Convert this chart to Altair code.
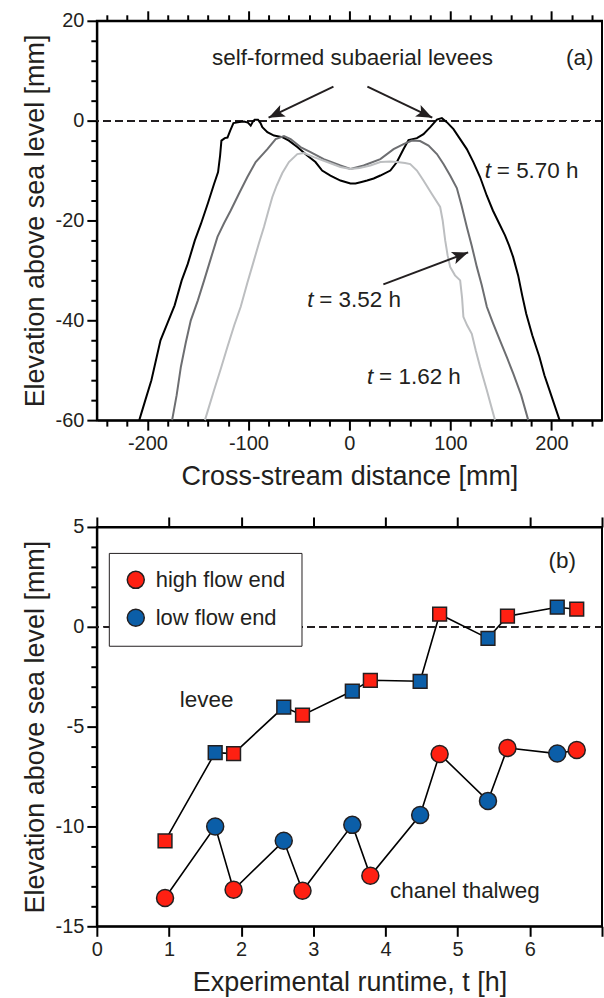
import math
import altair as alt
import pandas as pd

FONT = "Liberation Sans"
INK = "#231f20"

# ---------------- Panel (a): cross-stream elevation profiles ----------------
x_570 = [-208, -202, -196, -187, -180, -173, -166, -160, -153, -147, -140, -134, -130, -128, -126.7,
         -123.4, -120.7, -118, -114.8, -109, -104.3, -100.5, -97.7, -95.5, -93.8, -90.5, -88, -86.2,
         -81.2, -74.7, -66.4, -59.9, -51.6, -41.8, -33.6, -27, -18.8, -8.9, 1, 6, 12, 17.5, 24, 30.6,
         40.5, 47, 53.6, 58.5, 66.8, 73.3, 80, 86.6, 91.5, 96.4, 103, 109.6, 116.2, 122.7, 129.3, 135.9,
         142, 148, 154, 158, 162, 167, 171, 175, 181, 188, 193, 198, 203, 208]
y_570 = [-60, -56, -52, -44, -40.5, -37, -32, -28.7, -24, -20.7, -16.5, -12.7, -10.3, -7, -4,
         -3.5, -3.4, -2, -0.5, -0.3, -0.2, -0.4, -1, -0.2, 0.2, 0.2, -0.5, -1.3,
         -2.3, -3, -3.3, -4, -5.3, -7, -8.3, -10, -11, -12, -12.6, -12.6, -12.3, -12, -11.6, -11,
         -10, -8.3, -5.7, -3.9, -3.5, -2.7, -1.3, 0.2, 0.5, -0.3, -1.7, -3.7, -5.7, -8.3, -11.3, -15,
         -18, -20.5, -23, -25, -27.3, -31, -35, -38.7, -43, -47.3, -51, -54, -57, -60]

x_352 = [-175.5, -171, -166.8, -162, -157, -150, -143.8, -137, -130.6, -124, -117.5, -109, -101, -92.8,
         -81.2, -73, -64.8, -58.2, -48.4, -38.5, -25.4, -8.9, 1, 14.1, 30.6, 43.7, 53.6, 61.9, 70, 78.3,
         86.6, 93.1, 99.7, 106.3, 111, 116.2, 121, 126.1, 131, 136, 142, 149, 156, 162.2, 170, 177]
y_352 = [-60, -55, -49.3, -44.5, -40, -36, -32, -27.5, -23.3, -20.5, -18, -14.5, -11.3, -8.3,
         -5.7, -3.7, -3.1, -3.7, -5.3, -6.3, -7.7, -9, -9.7, -9, -7.7, -5.7, -4.7, -4, -4.1, -5,
         -6.7, -8.7, -11, -13.5, -17, -21.3, -25, -29.3, -33, -37.3, -40.5, -44, -47.5, -50.7, -55, -60]

x_162 = [-143, -138.5, -134, -127, -120.7, -114, -107.6, -101, -94.5, -89.5, -84.6, -80.5, -76.3, -72,
         -66.4, -59.9, -51.6, -45, -35.2, -22, -8.9, 1, 10, 20.7, 30.6, 40.5, 47, 55, 60.2, 66.8, 73.3,
         81.6, 89.8, 92.3, 94.8, 97.2, 99.7, 104.5, 109.6, 111.5, 112.8, 116.5, 121.1, 125, 129.3, 136, 144.1]
y_162 = [-60, -57, -54, -49.5, -45.3, -41, -37.3, -32.5, -28, -24.5, -21.3, -18.3, -15.3, -13,
         -10.5, -8.3, -6.7, -6.5, -7.3, -8.3, -9.3, -9.7, -9.5, -9, -8.3, -8.2, -8.3, -8.5, -8.7, -10, -12,
         -14.7, -17.3, -20, -24, -27, -29.3, -31, -32, -35.5, -39.3, -41, -42.7, -46, -49.3, -54, -60]

profile_names = ["t = 5.70 h", "t = 3.52 h", "t = 1.62 h"]
profile_colors = ["#000000", "#6d6e71", "#bcbec0"]

# text annotations of panel (a)
a_text = ["self-formed subaerial levees", "(a)"]
a_text_x = [3, 228]
a_text_y = [12.6, 12.6]
t_label = ["= 5.70 h", "= 3.52 h", "= 1.62 h"]
t_label_x = [134, -41.7, 17.5]
t_label_y = [-10, -36, -51.3]

# arrows of panel (a): tail -> tip
arrow_x0 = [-15.8, 17.8, 33.6]
arrow_y0 = [6.8, 6.8, -32.8]
arrow_x1 = [-80, 82, 117.5]
arrow_y1 = [0.6, 0.6, -26.4]

# ---------------- Panel (b): levee and thalweg elevations ----------------
runtime = [0.945, 1.64, 1.895, 2.59, 2.85, 3.54, 3.79, 4.48, 4.75, 5.42, 5.69, 6.38, 6.65]
flow_end = ["high flow end", "low flow end"] * 6 + ["high flow end"]
levee = [-10.72, -6.3, -6.35, -4.02, -4.43, -3.22, -2.68, -2.73, 0.63, -0.58, 0.53, 0.98, 0.88]
thalweg = [-13.58, -10.0, -13.17, -10.72, -13.22, -9.92, -12.47, -9.43, -6.37, -8.72, -6.07, -6.35, -6.17]
end_names = ["high flow end", "low flow end"]
end_colors = ["#fe2012", "#0b5ea8"]

b_text = ["(b)", "levee", "chanel thalweg"]
b_text_x = [6.45, 1.52, 5.10]
b_text_y = [3.3, -3.67, -13.25]

# ---------------- build ----------------
W, H = 506, 400
XA = [-250, 250]
YA = [-60, 20]
XB = [0, 7]
YB = [-15, 5]
ANN = 22.5

rows = []
for name, xs, ys in zip(profile_names, [x_570, x_352, x_162], [y_570, y_352, y_162]):
    for i, (xv, yv) in enumerate(zip(xs, ys)):
        rows.append({"run": name, "i": i, "x": xv, "y": yv})
prof = pd.DataFrame(rows)

def head_angle(x0, y0, x1, y1):
    dx = (x1 - x0) * W / (XA[1] - XA[0])
    dy = -(y1 - y0) * H / (YA[1] - YA[0])
    return math.degrees(math.atan2(dx, -dy)) % 360

arrows = pd.DataFrame({"x0": arrow_x0, "y0": arrow_y0, "x1": arrow_x1, "y1": arrow_y1})
arrows["ang"] = [head_angle(a, b, c, d) for a, b, c, d in zip(arrow_x0, arrow_y0, arrow_x1, arrow_y1)]

a_txt = pd.DataFrame({"text": a_text, "x": a_text_x, "y": a_text_y})
t_txt = pd.DataFrame({"label": t_label, "x": t_label_x, "y": t_label_y})

dfb = pd.DataFrame({"t": runtime, "end": flow_end, "levee": levee, "thalweg": thalweg})
b_txt = pd.DataFrame({"text": b_text, "x": b_text_x, "y": b_text_y})

common = dict(labelFont=FONT, labelFontSize=20, labelColor=INK, labelPadding=3, labelOverlap=False,
              labelFlush=False, titleFont=FONT, titleFontSize=27, titleFontWeight="normal", titleColor=INK,
              domainColor="black", domainWidth=2, tickColor="black", tickWidth=2, grid=False)

def msize(test):
    return {"condition": {"test": test, "value": 10}, "value": 6}

xa = alt.Scale(domain=XA, nice=False, zero=False)
ya = alt.Scale(domain=YA, nice=False, zero=False)
xb = alt.Scale(domain=XB, nice=False, zero=False)
yb = alt.Scale(domain=YB, nice=False, zero=False)

xa_vals = list(range(-240, 241, 20))
ya_vals = list(range(-60, 21, 4))

ax_a_bottom = alt.Axis(values=xa_vals, tickSize=msize("datum.value % 100 === 0"),
                       labelExpr="datum.value % 100 === 0 ? toString(datum.value) : ''",
                       title="Cross-stream distance [mm]", titlePadding=10, **common)
ax_a_top = alt.Axis(orient="top", values=xa_vals, tickSize=msize("datum.value % 100 === 0"),
                    labels=False, title=None, **common)
ax_a_left = alt.Axis(values=ya_vals, tickSize=msize("datum.value % 20 === 0"),
                     labelExpr="datum.value % 20 === 0 ? toString(datum.value) : ''",
                     title="Elevation above sea level [mm]", titlePadding=6, **common)

curves = alt.Chart(prof).mark_line(strokeWidth=2).encode(
    x=alt.X("x:Q", scale=xa, axis=ax_a_bottom),
    y=alt.Y("y:Q", scale=ya, axis=ax_a_left),
    color=alt.Color("run:N", scale=alt.Scale(domain=profile_names, range=profile_colors), legend=None),
    order="i:Q",
)
zero_a = alt.Chart(prof).mark_rule(strokeDash=[7, 5], strokeWidth=1.5, color=INK).encode(
    y=alt.YDatum(0, type="quantitative", axis=None)
)
shafts = alt.Chart(arrows).mark_rule(strokeWidth=2, color=INK).encode(
    x=alt.X("x0:Q", scale=xa, axis=ax_a_top), x2="x1:Q",
    y=alt.Y("y0:Q", scale=ya, axis=None), y2="y1:Q",
)
heads = alt.Chart(arrows).mark_point(
    shape="M0,0 L-0.8,2 L0,1.55 L0.8,2 Z", size=256, filled=True, color=INK, opacity=1
).encode(
    x=alt.X("x1:Q", scale=xa, axis=None),
    y=alt.Y("y1:Q", scale=ya, axis=None),
    angle=alt.Angle("ang:Q", scale=None),
)
a_labels = alt.Chart(a_txt).mark_text(font=FONT, fontSize=ANN, color=INK, align="center", baseline="middle").encode(
    x=alt.X("x:Q", scale=xa, axis=None), y=alt.Y("y:Q", scale=ya, axis=None), text="text:N"
)
t_ital = alt.Chart(t_txt).mark_text(font=FONT, fontSize=ANN, color=INK, align="left", baseline="middle",
                                    fontStyle="italic", text="t").encode(
    x=alt.X("x:Q", scale=xa, axis=None), y=alt.Y("y:Q", scale=ya, axis=None)
)
t_rest = alt.Chart(t_txt).mark_text(font=FONT, fontSize=ANN, color=INK, align="left", baseline="middle",
                                    dx=12).encode(
    x=alt.X("x:Q", scale=xa, axis=None), y=alt.Y("y:Q", scale=ya, axis=None), text="label:N"
)

top = alt.layer(zero_a, curves, shafts, heads, a_labels, t_ital, t_rest).resolve_axis(
    x="independent", y="independent").properties(width=W, height=H)

# panel (b)
xb_vals = list(range(0, 8))
yb_vals = list(range(-15, 6))
ax_b_bottom = alt.Axis(values=xb_vals, tickSize=10,
                       labelExpr="datum.value < 7 ? toString(datum.value) : ''",
                       title="Experimental runtime, t [h]", titlePadding=10, **common)
ax_b_top = alt.Axis(orient="top", values=xb_vals, tickSize=10, labels=False, title=None, **common)
ax_b_left = alt.Axis(values=yb_vals, tickSize=msize("datum.value % 5 === 0"),
                     labelExpr="datum.value % 5 === 0 ? toString(datum.value) : ''",
                     title="Elevation above sea level [mm]", titlePadding=6, **common)

end_color = alt.Color(
    "end:N", scale=alt.Scale(domain=end_names, range=end_colors),
    legend=alt.Legend(orient="none", legendX=12, legendY=26, title=None, symbolType="circle",
                      symbolSize=290, symbolStrokeColor=INK, symbolStrokeWidth=1.5, labelFont=FONT,
                      labelFontSize=22, labelColor=INK, labelOffset=9, padding=16, rowPadding=14,
                      strokeColor=INK, fillColor="white", zindex=1, cornerRadius=0),
)

zero_b = alt.Chart(dfb).mark_rule(strokeDash=[7, 5], strokeWidth=1.5, color=INK).encode(
    y=alt.YDatum(0, type="quantitative", axis=None)
)
levee_line = alt.Chart(dfb).mark_line(color="black", strokeWidth=1.6).encode(
    x=alt.X("t:Q", scale=xb, axis=ax_b_bottom),
    y=alt.Y("levee:Q", scale=yb, axis=ax_b_left),
)
thal_line = alt.Chart(dfb).mark_line(color="black", strokeWidth=1.6).encode(
    x=alt.X("t:Q", scale=xb, axis=None),
    y=alt.Y("thalweg:Q", scale=yb, axis=None),
)
squares = alt.Chart(dfb).mark_point(shape="square", filled=True, size=190, stroke=INK,
                                    strokeWidth=1.5, opacity=1).encode(
    x=alt.X("t:Q", scale=xb, axis=None),
    y=alt.Y("levee:Q", scale=yb, axis=None),
    color=end_color,
)
circles = alt.Chart(dfb).mark_point(shape="circle", filled=True, size=290, stroke=INK,
                                    strokeWidth=1.5, opacity=1).encode(
    x=alt.X("t:Q", scale=xb, axis=None),
    y=alt.Y("thalweg:Q", scale=yb, axis=None),
    color=end_color,
)
b_labels = alt.Chart(b_txt).mark_text(font=FONT, fontSize=ANN, color=INK, align="center",
                                      baseline="middle").encode(
    x=alt.X("x:Q", scale=xb, axis=ax_b_top), y=alt.Y("y:Q", scale=yb, axis=None), text="text:N"
)

bottom = alt.layer(zero_b, levee_line, thal_line, squares, circles, b_labels).resolve_axis(
    x="independent", y="independent").properties(width=W, height=H)

chart = alt.vconcat(top, bottom, spacing=25).resolve_scale(color="independent").properties(
    padding={"left": 20, "top": 8, "right": 0, "bottom": 0}
).configure_view(stroke="black", strokeWidth=2)

chart.save("out.html", embed_options={"renderer": "svg", "actions": False})
